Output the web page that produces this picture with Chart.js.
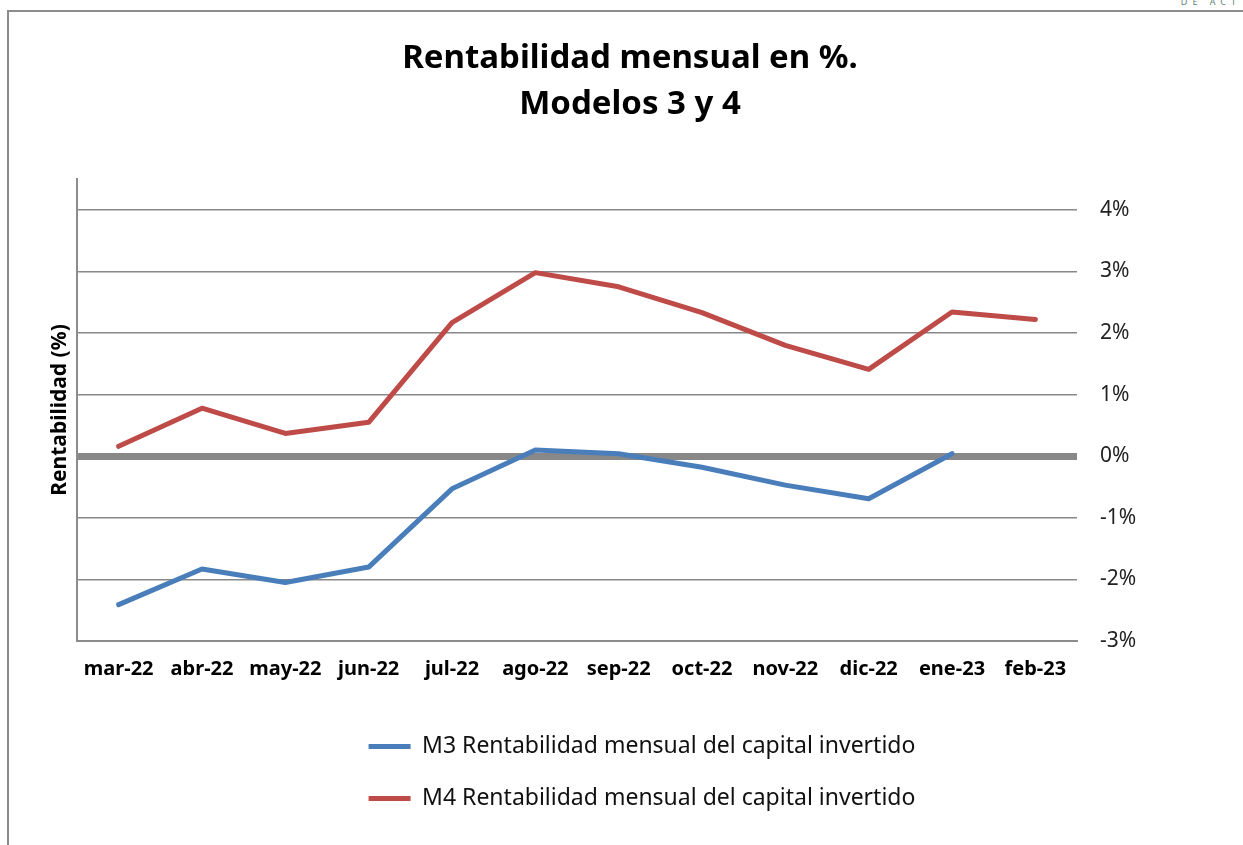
<!DOCTYPE html>
<html>
<head>
<meta charset="utf-8">
<title>Rentabilidad mensual en %. Modelos 3 y 4</title>
<script src="https://cdn.jsdelivr.net/npm/chart.js@4.4.1/dist/chart.umd.min.js"></script>
<style>
    html, body { margin: 0; padding: 0; background: #fff; overflow: hidden; }
    #wrap { position: relative; width: 1243px; height: 845px; }
    /* marco gris del gráfico (solo izquierda y arriba, como en la captura) */
    #frame {
        position: absolute; left: 7px; top: 10px; right: -4px; bottom: -4px;
        border-left: 2px solid #8c8c8c; border-top: 2px solid #8c8c8c;
    }
    #corner {
        position: absolute; right: 2px; top: -5px;
        font: 9px "Noto Sans", sans-serif; letter-spacing: 5px; color: #5f7f7a;
    }
    canvas { position: absolute; left: 0; top: 0; }
</style>
</head>
<body>
<div id="wrap">
    <div id="frame"></div>
    <div id="corner">DE ACT</div>
    <canvas id="rentChart" width="1243" height="845"></canvas>
</div>
<script>
// datos (en %)
const months = ['mar-22', 'abr-22', 'may-22', 'jun-22', 'jul-22', 'ago-22',
                'sep-22', 'oct-22', 'nov-22', 'dic-22', 'ene-23', 'feb-23'];
const m3Values = [-2.41, -1.83, -2.05, -1.80, -0.53, 0.10, 0.04, -0.18, -0.47, -0.69, 0.04, null];
const m4Values = [0.16, 0.78, 0.37, 0.55, 2.17, 2.98, 2.75, 2.33, 1.80, 1.41, 2.34, 2.22];
const yTicks = [-3, -2, -1, 0, 1, 2, 3, 4];
const yMin = -3;
const yMax = 4.5;

const seriesNames = [
    'M3 Rentabilidad mensual del capital invertido',
    'M4 Rentabilidad mensual del capital invertido'
];

const FONT = '"Noto Sans", "Open Sans", sans-serif';
const gridGray = '#888888';

// la leyenda del original no está centrada bajo el área del gráfico
const legendShift = {
    id: 'legendShift',
    afterLayout(chart) {
        const lg = chart.legend;
        if (lg) { lg.left += 65; lg.right += 65; }
    }
};

const ctx = document.getElementById('rentChart').getContext('2d');

new Chart(ctx, {
    type: 'line',
    data: {
        labels: months,
        datasets: [
            {
                label: seriesNames[0],
                data: m3Values,
                borderColor: '#4a7ebb',
                backgroundColor: '#4a7ebb',
                borderWidth: 5,
                borderCapStyle: 'round',
                borderJoinStyle: 'round',
                pointRadius: 0,
                pointStyle: 'line',
                tension: 0,
                yAxisID: 'y'
            },
            {
                label: seriesNames[1],
                data: m4Values,
                borderColor: '#be4b48',
                backgroundColor: '#be4b48',
                borderWidth: 5,
                borderCapStyle: 'round',
                borderJoinStyle: 'round',
                pointRadius: 0,
                pointStyle: 'line',
                tension: 0,
                yAxisID: 'y'
            }
        ]
    },
    plugins: [legendShift],
    options: {
        responsive: false,
        animation: false,
        layout: { padding: { left: 40, right: 23, top: 0, bottom: 25 } },
        plugins: {
            title: {
                display: true,
                text: ['Rentabilidad mensual en %.', 'Modelos 3 y 4'],
                color: '#000',
                font: { family: FONT, size: 33, weight: 'bold', lineHeight: 1.394 },
                padding: { top: 36, bottom: 51 }
            },
            legend: {
                position: 'bottom',
                fullSize: false,
                labels: {
                    usePointStyle: true,
                    pointStyleWidth: 42,
                    color: '#111',
                    font: { family: FONT, size: 23 },
                    padding: 29
                }
            },
            tooltip: { enabled: false }
        },
        scales: {
            x: {
                offset: true,
                grid: { display: false, drawTicks: false },
                border: { display: true, color: '#8c8c8c', width: 2 },
                ticks: {
                    color: '#000',
                    font: { family: FONT, size: 20, weight: 'bold' },
                    padding: 16,
                    maxRotation: 0,
                    autoSkip: false
                },
                // título vacío: solo deja aire entre las fechas y la leyenda
                title: {
                    display: true,
                    text: ' ',
                    font: { size: 9, lineHeight: 1 },
                    padding: 0
                }
            },
            y: {
                position: 'right',
                min: yMin,
                max: yMax,
                afterBuildTicks: (axis) => {
                    axis.ticks = yTicks.map(v => ({ value: v }));
                },
                afterFit: (scale) => { scale.width = 143; },
                grid: {
                    color: gridGray,
                    lineWidth: (c) => (c.tick && c.tick.value === 0 ? 7 : 1.6),
                    drawTicks: false
                },
                border: { display: false },
                ticks: {
                    color: '#222',
                    font: { family: FONT, size: 21 },
                    padding: 23,
                    callback: (v) => v + '%'
                }
            },
            // eje izquierdo: solo la línea vertical y el título
            yL: {
                position: 'left',
                min: yMin,
                max: yMax,
                afterFit: (scale) => { scale.width = 37; },
                grid: { display: false, drawTicks: false },
                border: { display: true, color: '#8c8c8c', width: 2 },
                ticks: { display: false },
                title: {
                    display: true,
                    text: 'Rentabilidad (%)',
                    color: '#000',
                    font: { family: FONT, size: 21, weight: 'bold' },
                    padding: { top: 7, bottom: 5 }
                }
            }
        }
    }
});
</script>
</body>
</html>
